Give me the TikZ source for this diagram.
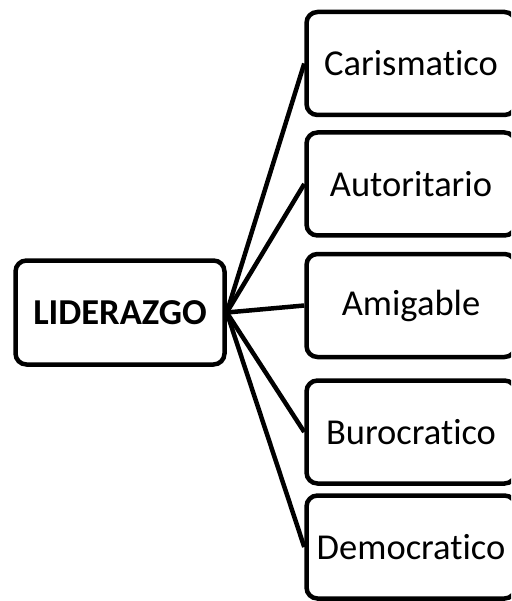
\documentclass[tikz,border=0pt]{standalone}
\usepackage{fontspec}
\setmainfont[Ligatures=NoCommon]{Carlito}
\begin{document}
\begin{tikzpicture}[x=1pt,y=1pt,
  box/.style={draw=black, line width=4.5pt, rounded corners=11pt, fill=white,
    minimum width=209pt, minimum height=103pt, inner sep=0pt,
    font=\fontsize{36.5}{40}\selectfont},
  link/.style={draw=black, line width=4.5pt}]
\useasboundingbox (0,0) rectangle (511,-601);
\clip (0,0) rectangle (511,-601);
\node[box, minimum height=104pt, font=\fontsize{36.5}{40}\selectfont\bfseries] (lid) at (120,-312.5) {LIDERAZGO};
\node[box] (car) at (411,-63.5) {Carismatico};
\node[box] (aut) at (411,-184) {Autoritario};
\node[box] (ami) at (411,-305.5) {Amigable};
\node[box] (bur) at (411,-432) {Burocratico};
\node[box] (dem) at (411,-547) {Democratico};
\foreach \t in {car,aut,ami,bur,dem}{
  \draw[link] (lid.east) -- (\t.west);
}
\end{tikzpicture}
\end{document}
